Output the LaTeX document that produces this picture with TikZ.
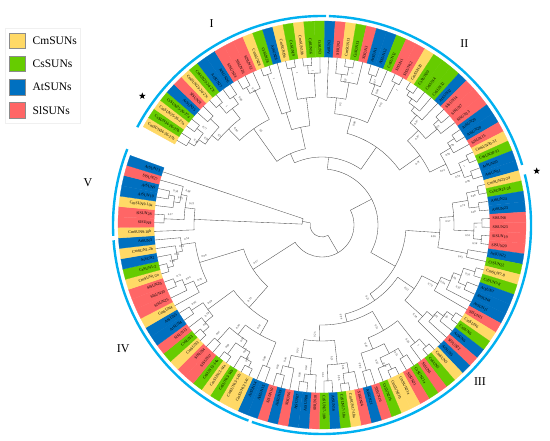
\documentclass[tikz,border=0pt]{standalone}
\usepackage{fontspec}
\setmainfont{Liberation Serif}
\usetikzlibrary{shapes.geometric}
\definecolor{cmY}{RGB}{255,217,102}
\definecolor{csG}{RGB}{102,204,0}
\definecolor{atB}{RGB}{0,112,192}
\definecolor{slR}{RGB}{255,102,102}
\definecolor{arcB}{RGB}{0,176,240}
\newcommand\tleaf[3]{%
  \pgfmathsetmacro\lfA{151.2-(#1+0.5)*2.9508}%
  \expandafter\xdef\csname na@L#1\endcsname{\lfA}%
  \expandafter\xdef\csname nr@L#1\endcsname{168}%
  \pgfmathsetmacro\lfB{\lfA+1.4754}%
  \pgfmathsetmacro\lfE{\lfA-1.4754}%
  \path[fill=#2,draw=#2,line width=0.25pt] (\lfB:168pt) arc[start angle=\lfB,end angle=\lfE,radius=168pt] -- (\lfE:204pt) arc[start angle=\lfE,end angle=\lfB,radius=204pt] -- cycle;
  \pgfmathtruncatemacro\lfS{cos(\lfA)>=0 ? 1 : 0}%
  \ifnum\lfS=1
    \node[leaflab,anchor=west,rotate=\lfA] at (\lfA:170.5pt) {#3};%
  \else
    \pgfmathsetmacro\lfR{\lfA+180}%
    \node[leaflab,anchor=east,rotate=\lfR] at (\lfA:170.5pt) {#3};%
  \fi}
\newcommand\cn[4]{%
  \gdef\ndF{}%
  \foreach \ndc in {#3}{%
    \ifx\ndF\empty\xdef\ndF{\ndc}\fi
    \xdef\ndL{\ndc}}%
  \edef\ndaF{\csname na@\ndF\endcsname}%
  \edef\ndaL{\csname na@\ndL\endcsname}%
  \draw[branch] (\ndaF:#2pt) arc[start angle=\ndaF,end angle=\ndaL,radius=#2pt];
  \foreach \ndc in {#3}{%
    \edef\ndcA{\csname na@\ndc\endcsname}%
    \edef\ndcR{\csname nr@\ndc\endcsname}%
    \draw[branch] (\ndcA:#2pt) -- (\ndcA:\ndcR pt);}%
  \pgfmathsetmacro\ndM{(\ndaF+\ndaL)/2}%
  \expandafter\xdef\csname na@#1\endcsname{\ndM}%
  \expandafter\xdef\csname nr@#1\endcsname{#2}%
  \if\relax\detokenize{#4}\relax\else
    \pgfmathsetmacro\ndLA{\ndM-280/#2}%
    \pgfmathsetmacro\ndLR{#2-6}%
    \pgfmathtruncatemacro\ndS{cos(\ndLA)>=0 ? 1 : 0}%
    \ifnum\ndS=1 \edef\ndRot{\ndLA}\else\pgfmathsetmacro\ndRot{\ndLA+180}\fi
    \node[bootlab,rotate=\ndRot] at (\ndLA:\ndLR pt) {#4};%
  \fi}
\begin{document}
\begin{tikzpicture}[x=1pt,y=1pt,
  branch/.style={draw=black!70,line width=0.35pt},
  leaflab/.style={font=\fontsize{4}{4}\selectfont,inner sep=0pt},
  bootlab/.style={font=\fontsize{2.8}{2.8}\selectfont,inner sep=0pt,text=black!80},
  cladearc/.style={draw=arcB,line width=2.4pt},
  cladelab/.style={font=\fontsize{12}{12}\selectfont,inner sep=0pt},
  legbox/.style={draw=black!45,line width=0.8pt},
  legtext/.style={font=\fontsize{11.5}{11.5}\selectfont,anchor=west,inner sep=0pt}]
\useasboundingbox (-322,-216) rectangle (228,225);
\fill[white] (-322,-216) rectangle (228,225);
% legend
\draw[black!6,line width=0.5pt] (-317,196.7) rectangle (-242,101.7);
\draw[legbox,fill=cmY] (-312.7,191.7) rectangle (-297,176.2);
\draw[legbox,fill=csG] (-312.7,168.6) rectangle (-297,153.1);
\draw[legbox,fill=atB] (-312.7,145.5) rectangle (-297,130.0);
\draw[legbox,fill=slR] (-312.7,122.4) rectangle (-297,106.9);
\node[legtext] (lgA) at (-289.5,184.0) {CmSUNs};
\node[legtext] (lgB) at (-289.5,160.9) {CsSUNs};
\node[legtext] (lgC) at (-289.5,137.8) {AtSUNs};
\node[legtext] (lgD) at (-289.5,114.7) {SlSUNs};
% leaves: clade I
\tleaf{0}{cmY}{CmSUN24-26-27b}
\tleaf{1}{csG}{CsSUN24-26-27b}
\tleaf{2}{cmY}{CmSUN25-26-27a}
\tleaf{3}{csG}{CsSUN25-26-27a}
\tleaf{4}{atB}{AtSUN25}
\tleaf{5}{slR}{SlSUN31}
\tleaf{6}{cmY}{CmSUN25-26-27c}
\tleaf{7}{csG}{CsSUN25-26-27c}
\tleaf{8}{atB}{AtSUN27}
\tleaf{9}{atB}{AtSUN26}
\tleaf{10}{slR}{SlSUN24}
\tleaf{11}{slR}{SlSUN26}
\tleaf{12}{slR}{SlSUN32}
\tleaf{13}{cmY}{CmSUN28}
\tleaf{14}{csG}{CsSUN28}
\tleaf{15}{atB}{AtSUN28}
\tleaf{16}{cmY}{CmSUN19a}
\tleaf{17}{csG}{CsSUN19}
\tleaf{18}{cmY}{CmSUN19b}
\tleaf{19}{csG}{CsSUN16}
\tleaf{20}{csG}{CsSUN3}
% clade II
\tleaf{21}{atB}{AtSUN3}
\tleaf{22}{slR}{SlSUN2}
\tleaf{23}{cmY}{CmSUN13}
\tleaf{24}{csG}{CsSUN13}
\tleaf{25}{slR}{SlSUN3}
\tleaf{26}{atB}{AtSUN1}
\tleaf{27}{atB}{AtSUN12}
\tleaf{28}{csG}{CsSUN12}
\tleaf{29}{slR}{SlSUN1}
\tleaf{30}{slR}{SlSUN12}
\tleaf{31}{cmY}{CmSUN20}
\tleaf{32}{csG}{CsSUN20}
\tleaf{33}{csG}{CsSUN4}
\tleaf{34}{csG}{CsSUN32}
\tleaf{35}{atB}{AtSUN32}
\tleaf{36}{slR}{SlSUN14}
\tleaf{37}{slR}{SlSUN7}
\tleaf{38}{slR}{SlSUN13}
\tleaf{39}{atB}{AtSUN29}
\tleaf{40}{atB}{AtSUN20}
\tleaf{41}{slR}{SlSUN15}
\tleaf{42}{cmY}{CmSUN30-31}
\tleaf{43}{csG}{CsSUN30-31}
\tleaf{44}{atB}{AtSUN30}
\tleaf{45}{atB}{AtSUN31}
% clade III
\tleaf{46}{cmY}{CmSUN23-24}
\tleaf{47}{csG}{CsSUN23-24}
\tleaf{48}{atB}{AtSUN24}
\tleaf{49}{atB}{AtSUN23}
\tleaf{50}{slR}{SlSUN8}
\tleaf{51}{slR}{SlSUN23}
\tleaf{52}{slR}{SlSUN19}
\tleaf{53}{slR}{SlSUN20}
\tleaf{54}{atB}{AtSUN22}
\tleaf{55}{csG}{CsSUN22}
\tleaf{56}{cmY}{CmSUN7-8}
\tleaf{57}{csG}{CsSUN7-8}
\tleaf{58}{atB}{AtSUN7}
\tleaf{59}{atB}{AtSUN8}
\tleaf{60}{atB}{AtSUN11}
\tleaf{61}{slR}{SlSUN11}
\tleaf{62}{cmY}{CmSUN6}
\tleaf{63}{csG}{CsSUN6}
\tleaf{64}{atB}{AtSUN6}
\tleaf{65}{slR}{SlSUN22}
\tleaf{66}{atB}{AtSUN5}
\tleaf{67}{cmY}{CmSUN5}
\tleaf{68}{csG}{CsSUN5}
\tleaf{69}{slR}{SlSUN5}
\tleaf{70}{csG}{CsSUN21a}
\tleaf{71}{slR}{SlSUN21}
\tleaf{72}{cmY}{CmSUN21a}
\tleaf{73}{cmY}{CmSUN21b}
\tleaf{74}{csG}{CsSUN21b}
\tleaf{75}{slR}{SlSUN16}
\tleaf{76}{atB}{AtSUN21}
\tleaf{77}{slR}{SlSUN24}
\tleaf{78}{cmY}{CmSUN17-18a}
\tleaf{79}{csG}{CsSUN17-18a}
\tleaf{80}{atB}{AtSUN16}
\tleaf{81}{csG}{CsSUN17-18b}
\tleaf{82}{slR}{SlSUN18}
\tleaf{83}{atB}{AtSUN18}
\tleaf{84}{atB}{AtSUN17}
\tleaf{85}{slR}{SlSUN6}
\tleaf{86}{atB}{AtSUN19}
\tleaf{87}{slR}{SlSUN10}
% clade IV
\tleaf{88}{atB}{AtSUN15}
\tleaf{89}{atB}{AtSUN14}
\tleaf{90}{cmY}{CmSUN13-14c}
\tleaf{91}{cmY}{CmSUN13-14b}
\tleaf{92}{csG}{CsSUN13-14b}
\tleaf{93}{cmY}{CmSUN13-14a}
\tleaf{94}{csG}{CsSUN13-14a}
\tleaf{95}{slR}{SlSUN17}
\tleaf{96}{slR}{SlSUN4}
\tleaf{97}{cmY}{CmSUN3}
\tleaf{98}{csG}{CsSUN3}
\tleaf{99}{slR}{SlSUN13}
\tleaf{100}{atB}{AtSUN4}
\tleaf{101}{atB}{AtSUN5}
\tleaf{102}{cmY}{CmSUN4}
\tleaf{103}{slR}{SlSUN25}
\tleaf{104}{slR}{SlSUN30}
\tleaf{105}{slR}{SlSUN29}
\tleaf{106}{cmY}{CmSUN1-2a}
\tleaf{107}{csG}{CsSUN1-2}
\tleaf{108}{atB}{AtSUN2}
\tleaf{109}{cmY}{CmSUN1-2b}
\tleaf{110}{atB}{AtSUN3}
% clade V
\tleaf{111}{cmY}{CmSUN9-10b}
\tleaf{112}{slR}{SlSUN9}
\tleaf{113}{slR}{SlSUN28}
\tleaf{114}{cmY}{CmSUN9-10a}
\tleaf{115}{atB}{AtSUN10}
\tleaf{116}{atB}{AtSUN9}
\tleaf{117}{slR}{SlSUN27}
\tleaf{118}{atB}{AtSUN13}
% tree: clade I
\cn{Ia}{157}{L0,L1}{0.99}
\cn{Ib}{158}{L2,L3}{0.77}
\cn{Ic}{150}{Ia,Ib}{0.98}
\cn{Id}{154}{L4,L5}{}
\cn{Ie}{142}{Ic,Id}{0.5}
\cn{If}{158}{L6,L7}{1}
\cn{Ig}{156}{L8,L9}{0.86}
\cn{Ih}{147}{If,Ig}{}
\cn{Ii}{134}{Ie,Ih}{0.86}
\cn{Ij}{157}{L10,L11}{0.75}
\cn{Ik}{150}{Ij,L12}{}
\cn{Il}{118}{Ii,Ik}{0.5}
\cn{Im}{160}{L13,L14}{1}
\cn{In}{118}{Im,L15}{}
\cn{Io}{160}{L16,L17}{1}
\cn{Ip}{160}{L18,L19}{1}
\cn{Iq}{152}{Ip,L20}{}
\cn{Ir}{128}{Io,Iq}{}
\cn{Is}{100}{In,Ir}{}
\cn{cI}{78}{Il,Is}{}
% clade II
\cn{a1}{160}{L23,L24}{1}
\cn{a2}{152}{L22,a1}{0.97}
\cn{a3}{145}{a2,L25}{}
\cn{a4}{128}{L21,a3}{0.5}
\cn{b1}{158}{L26,L27}{0.97}
\cn{b2}{150}{b1,L28}{0.84}
\cn{b3}{160}{L29,L30}{1}
\cn{b4}{140}{b2,b3}{0.61}
\cn{ab}{112}{a4,b4}{0.88}
\cn{c1}{160}{L31,L32}{1}
\cn{c2}{155}{c1,L33}{}
\cn{c3}{150}{c2,L34}{1}
\cn{c4}{145}{c3,L35}{0.87}
\cn{c5}{157}{L36,L37}{0.53}
\cn{c6}{150}{c5,L38}{}
\cn{c7}{135}{c4,c6}{0.87}
\cn{d1}{158}{L39,L40}{0.98}
\cn{d2}{150}{d1,L41}{0.94}
\cn{d3}{160}{L42,L43}{1}
\cn{d4}{158}{L44,L45}{0.96}
\cn{d5}{150}{d3,d4}{0.53}
\cn{d6}{138}{d2,d5}{0.74}
\cn{cd}{120}{c7,d6}{0.47}
\cn{cII}{95}{ab,cd}{}
% clade III
\cn{e1}{160}{L46,L47}{0.98}
\cn{e2}{158}{L48,L49}{0.96}
\cn{e3}{148}{e1,e2}{0.74}
\cn{e4}{160}{L50,L51}{1}
\cn{e5}{160}{L52,L53}{0.56}
\cn{e6}{152}{e4,e5}{0.53}
\cn{e7}{132}{e3,e6}{0.57}
\cn{e8}{148}{L54,L55}{0.43}
\cn{eE}{118}{e7,e8}{0.56}
\cn{f1}{160}{L56,L57}{0.93}
\cn{f2}{156}{L58,L59}{0.92}
\cn{f3}{148}{f1,f2}{0.48}
\cn{f4}{140}{f3,L60}{0.84}
\cn{f5}{130}{f4,L61}{0.79}
\cn{g1}{160}{L62,L63}{0.95}
\cn{g2}{152}{g1,L64}{0.62}
\cn{g3}{144}{g2,L65}{}
\cn{g4}{136}{g3,L66}{0.58}
\cn{fg}{112}{f5,g4}{0.52}
\cn{h1}{160}{L67,L68}{1}
\cn{h2}{150}{h1,L69}{0.58}
\cn{h3}{155}{L70,L71}{0.51}
\cn{h4}{160}{L72,L73}{0.73}
\cn{h5}{154}{h4,L74}{0.55}
\cn{h6}{145}{h3,h5}{}
\cn{h7}{152}{L75,L76}{0.86}
\cn{h8}{134}{h6,h7}{0.45}
\cn{hH}{122}{h2,h8}{0.51}
\cn{j1}{160}{L78,L79}{0.96}
\cn{j2}{150}{L77,j1}{0.54}
\cn{j3}{156}{L80,L81}{0.61}
\cn{j4}{140}{j2,j3}{0.21}
\cn{j5}{158}{L83,L84}{0.98}
\cn{j6}{150}{L82,j5}{0.64}
\cn{j7}{155}{L86,L87}{0.82}
\cn{j8}{146}{L85,j7}{0.44}
\cn{j9}{134}{j6,j8}{0.91}
\cn{jJ}{116}{j4,j9}{0.25}
\cn{hj}{100}{hH,jJ}{0.99}
\cn{fghj}{92}{fg,hj}{0.21}
\cn{cIII}{84}{eE,fghj}{}
% clade IV
\cn{k1}{152}{L88,L89}{0.88}
\cn{k2}{160}{L90,L91}{0.93}
\cn{k3}{154}{k2,L92}{0.95}
\cn{k4}{160}{L93,L94}{0.98}
\cn{k5}{146}{k3,k4}{0.91}
\cn{k6}{156}{L95,L96}{0.97}
\cn{k7}{138}{k5,k6}{0.94}
\cn{k8}{126}{k1,k7}{0.91}
\cn{k9}{160}{L97,L98}{0.8}
\cn{k10}{152}{k9,L99}{0.58}
\cn{k11}{156}{L100,L101}{0.96}
\cn{k12}{142}{k10,k11}{0.69}
\cn{kK}{110}{k8,k12}{0.33}
\cn{l1}{158}{L104,L105}{0.71}
\cn{l2}{150}{L103,l1}{0.94}
\cn{l3}{140}{L102,l2}{0.25}
\cn{l4}{160}{L106,L107}{0.99}
\cn{l5}{154}{l4,L108}{0.62}
\cn{l6}{148}{l5,L109}{0.51}
\cn{l7}{142}{l6,L110}{0.54}
\cn{lL}{128}{l3,l7}{0.90}
\cn{cIV}{82}{kK,lL}{0.57}
% clade V
\cn{v1}{156}{L115,L116}{0.38}
\cn{v2}{150}{L114,v1}{0.35}
\cn{v3}{144}{v2,L117}{0.88}
\cn{v4}{158}{L112,L113}{0.37}
\cn{v5}{138}{v4,v3}{0.23}
\cn{cV}{128}{L111,v5}{}
% backbone
\cn{va}{20}{cV,L118}{}
\cn{bb1}{68}{cI,cII}{}
\cn{bb2}{56}{bb1,cIII}{}
\cn{bb3}{32}{bb2,cIV}{}
\cn{rt}{12}{bb3,va}{}
% clade arcs
\draw[cladearc] (152.1:209pt) arc[start angle=152.1,end angle=88.9,radius=209pt];
\draw[cladearc] (88.1:209pt) arc[start angle=88.1,end angle=16.7,radius=209pt];
\draw[cladearc] (14.0:209pt) arc[start angle=14.0,end angle=-109.6,radius=209pt];
\draw[cladearc] (-110.6:209pt) arc[start angle=-110.6,end angle=-175.8,radius=209pt];
\draw[cladearc] (-177.0:209pt) arc[start angle=-177.0,end angle=-201.3,radius=209pt];
% clade labels
\node[cladelab] (tI) at (-110.3,201.7) {I};
\node[cladelab] (tII) at (142.3,181.7) {II};
\node[cladelab] (tIII) at (158,-156.7) {III};
\node[cladelab] (tIV) at (-198.7,-123.3) {IV};
\node[cladelab] (tV) at (-234,42) {V};
% stars
\node[star,star points=5,star point ratio=2.4,fill=black,inner sep=0pt,minimum size=7pt] (s1) at (-179.7,129) {};
\node[star,star points=5,star point ratio=2.4,fill=black,inner sep=0pt,minimum size=7pt] (s2) at (214.7,54) {};
\end{tikzpicture}
\end{document}
